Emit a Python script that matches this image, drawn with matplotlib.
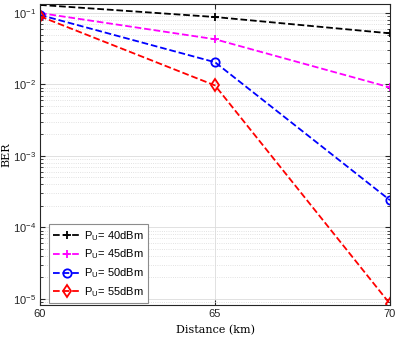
import numpy as np
import matplotlib
matplotlib.use("Agg")
import matplotlib.pyplot as plt
from matplotlib.ticker import LogLocator, NullFormatter

# distance (km) and BER
distance = [60, 65, 70]
ber_40 = [0.130, 0.088, 0.052]
ber_45 = [0.100, 0.043, 0.0091]
ber_50 = [0.094, 0.0205, 2.4e-4]
ber_55 = [0.090, 0.0097, 8.5e-6]
labels = ['40dBm', '45dBm', '50dBm', '55dBm']

plt.rcParams['font.family'] = ['Liberation Sans', 'DejaVu Sans']
plt.rcParams['mathtext.fontset'] = 'custom'
plt.rcParams['mathtext.rm'] = 'Liberation Sans'
plt.rcParams['mathtext.it'] = 'Liberation Sans:italic'

fig = plt.figure(figsize=(3.97, 3.39), dpi=100)
ax = fig.add_axes([0.1008, 0.1003, 0.8816, 0.888])

series = [ber_40, ber_45, ber_50, ber_55]
styles = [('k', '+'), ('#ff00ff', '+'), ('b', 'o'), ('r', 'd')]
for ys, (c, m), lab in zip(series, styles, labels):
    ax.semilogy(distance, ys, linestyle='--', color=c, marker=m, markersize=6,
                markerfacecolor='none', markeredgewidth=1.3, linewidth=1.3,
                label=r'P$_{\mathrm{U}}$= ' + lab)

ax.set_xlim(60, 70)
ax.set_ylim(8.2e-6, 0.134)
ax.set_xticks([60, 65, 70])
ax.yaxis.set_major_locator(LogLocator(base=10, numticks=10))
ax.yaxis.set_minor_locator(LogLocator(base=10, subs=np.arange(2, 10), numticks=20))
ax.yaxis.set_minor_formatter(NullFormatter())
ax.tick_params(which='both', direction='in', labelsize=8, right=True, top=True,
               colors='#262626', pad=3)
ax.tick_params(which='minor', length=2)
ax.grid(True, which='major', color='#dcdcdc', linewidth=0.6)
ax.grid(True, which='minor', axis='y', color='#d9d9d9', linestyle=':', linewidth=0.6)
for s in ax.spines.values():
    s.set_color('#262626')
    s.set_linewidth(0.8)

ax.set_xlabel('Distance (km)', family='DejaVu Serif', fontsize=8)
ax.set_ylabel('BER', family='DejaVu Serif', fontsize=8)
ax.yaxis.set_label_coords(-0.082, 0.5)

leg = ax.legend(loc='lower left', fontsize=8, handlelength=2.4,
                bbox_to_anchor=(0.025, 0.005), borderaxespad=0.0,
                fancybox=False, framealpha=1, edgecolor='#8c8c8c', labelspacing=0.45,
                handletextpad=0.4, borderpad=0.4)
leg.get_frame().set_linewidth(0.8)

fig.savefig('out.png', dpi=100)
